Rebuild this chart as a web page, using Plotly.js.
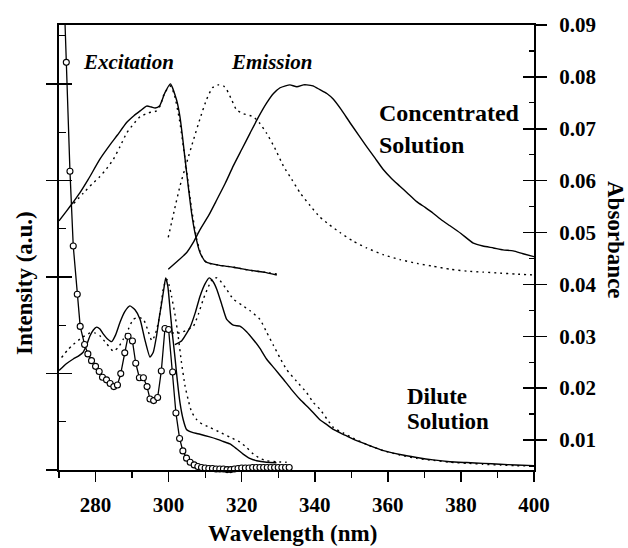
<!DOCTYPE html>
<html>
<head>
<meta charset="utf-8">
<script src="https://cdn.plot.ly/plotly-3.0.1.min.js"></script>
<style>html,body{margin:0;padding:0;background:#fff;}#chart{width:628px;height:548px;}</style>
</head>
<body>
<div id="chart"></div>
<script>
// Concentrated solution - excitation (solid / dotted)
const ccExS_x = [270, 272, 274, 275.7, 278, 281.2, 284, 286, 288.5, 290.5, 292.2, 294.0, 295.3, 296.3, 297.5, 299.0, 300.5, 302.2, 303.1, 303.9, 304.5, 305.4, 306.3, 307.2, 308.6, 310.0, 311.3, 314, 317.7, 322, 326, 329.6];
const ccExS_y = [2.58, 2.68, 2.78, 2.87, 3.01, 3.22, 3.37, 3.47, 3.60, 3.67, 3.72, 3.77, 3.76, 3.75, 3.77, 3.91, 4.00, 3.83, 3.66, 3.42, 3.22, 2.93, 2.66, 2.46, 2.25, 2.16, 2.14, 2.12, 2.10, 2.07, 2.05, 2.02];
const ccExD_x = [274, 276.7, 279, 281.2, 283, 284.9, 286.7, 288.5, 290.3, 292.2, 294.5, 296.7, 297.8, 298.5, 299.5, 300.4, 301.5, 303, 304.9, 306.3, 307.7, 309, 310.4, 314, 318, 322, 326, 329.6];
const ccExD_y = [2.76, 2.87, 2.96, 3.04, 3.12, 3.22, 3.35, 3.49, 3.58, 3.66, 3.70, 3.72, 3.78, 3.87, 3.94, 3.98, 3.90, 3.62, 3.11, 2.70, 2.39, 2.22, 2.15, 2.12, 2.10, 2.07, 2.05, 2.03];
// Concentrated solution - emission (solid / dotted)
const ccEmS_x = [299.9, 302, 304.9, 306.8, 308.6, 311, 313.2, 315.5, 317.7, 320, 322.3, 324.5, 326.8, 328.7, 330.5, 332, 333.2, 335.1, 336.9, 337.8, 339.5, 341.4, 343.3, 345.1, 347.3, 349.6, 352, 354.2, 356.5, 358.8, 361, 363.3, 365.6, 367.9, 370.2, 372.4, 374.7, 377.0, 380, 383.4, 386, 388.9, 391.5, 394.3, 397, 400];
const ccEmS_y = [2.08, 2.15, 2.25, 2.36, 2.49, 2.64, 2.80, 2.97, 3.15, 3.32, 3.49, 3.65, 3.80, 3.90, 3.96, 3.98, 3.99, 3.97, 3.99, 3.99, 3.98, 3.94, 3.90, 3.84, 3.73, 3.60, 3.47, 3.35, 3.23, 3.11, 3.02, 2.94, 2.86, 2.78, 2.72, 2.66, 2.59, 2.53, 2.45, 2.35, 2.32, 2.30, 2.28, 2.27, 2.24, 2.21];
const ccEmD_x = [299.9, 301.5, 303.1, 305, 306.8, 308.6, 310.4, 312, 313.6, 315, 315.9, 317.2, 318.6, 320.5, 323.2, 325, 326.8, 329, 331.4, 333.7, 336.0, 338.7, 341.4, 344, 346.9, 350.5, 354.2, 358.8, 363.3, 368, 372.4, 377, 381.6, 386, 390.7, 395, 400];
const ccEmD_y = [2.41, 2.68, 2.94, 3.19, 3.42, 3.64, 3.84, 3.96, 3.99, 3.98, 3.94, 3.84, 3.73, 3.69, 3.66, 3.59, 3.49, 3.34, 3.15, 3.01, 2.87, 2.74, 2.62, 2.54, 2.46, 2.37, 2.30, 2.23, 2.18, 2.14, 2.11, 2.08, 2.06, 2.05, 2.04, 2.03, 2.02];
// Dilute solution - excitation (solid / dotted)
const dExS_x = [270, 272, 273.9, 275.3, 276.6, 277.6, 278.5, 279.4, 280.3, 281.2, 282.1, 283.2, 284.4, 285.5, 286.7, 288, 289.4, 290.8, 292.2, 293.5, 294.9, 295.8, 296.7, 297.4, 298.1, 298.7, 299.2, 299.8, 300.4, 301.0, 301.7, 302.4, 303.1, 304, 304.9, 306.5, 308.6, 311, 313.2, 315, 316.8, 318.6, 320.4, 322.2, 324.1, 326.8, 329.5];
const dExS_y = [1.03, 1.10, 1.15, 1.18, 1.22, 1.30, 1.39, 1.45, 1.48, 1.46, 1.41, 1.36, 1.33, 1.40, 1.53, 1.64, 1.70, 1.66, 1.56, 1.35, 1.17, 1.22, 1.39, 1.57, 1.73, 1.88, 1.99, 1.90, 1.66, 1.42, 1.18, 0.92, 0.70, 0.52, 0.42, 0.39, 0.37, 0.345, 0.32, 0.295, 0.27, 0.22, 0.165, 0.12, 0.096, 0.08, 0.075];
const dExD_x = [270.7, 272.3, 273.9, 276.2, 278.5, 279.8, 281.2, 283, 284.9, 286.2, 287.6, 289, 290.3, 291.7, 293.1, 294.3, 295.4, 296.3, 297.2, 297.9, 298.5, 299.0, 299.5, 300.1, 300.8, 301.7, 302.6, 303.5, 304.5, 305.4, 306.3, 307.5, 308.6, 311.3, 314.1, 316.8, 319.5, 321.4, 323.2, 325, 326.8, 329.5, 332.3];
const dExD_y = [1.165, 1.24, 1.30, 1.37, 1.42, 1.42, 1.39, 1.31, 1.23, 1.27, 1.355, 1.46, 1.56, 1.58, 1.56, 1.45, 1.34, 1.40, 1.53, 1.70, 1.87, 1.94, 1.975, 1.92, 1.80, 1.62, 1.39, 1.12, 0.87, 0.72, 0.60, 0.53, 0.49, 0.44, 0.39, 0.34, 0.29, 0.23, 0.165, 0.12, 0.096, 0.085, 0.08];
// Dilute solution - emission (solid / dotted)
const dEmS_x = [301.7, 303.6, 305.9, 307.3, 308.6, 310, 311.1, 312.2, 313.2, 314.5, 315.9, 317.7, 319.5, 321.4, 323.2, 325, 326.8, 329, 331.4, 333.7, 336, 338.7, 341.4, 343.3, 345.1, 347.8, 350.5, 354.5, 358.8, 363.3, 367.9, 372.4, 377, 381.6, 386.1, 390.7, 395, 400];
const dEmS_y = [1.30, 1.34, 1.48, 1.63, 1.80, 1.93, 1.99, 1.95, 1.87, 1.72, 1.56, 1.50, 1.49, 1.43, 1.35, 1.26, 1.15, 1.05, 0.94, 0.83, 0.73, 0.63, 0.52, 0.47, 0.42, 0.37, 0.32, 0.26, 0.20, 0.16, 0.13, 0.105, 0.086, 0.077, 0.069, 0.06, 0.052, 0.045];
const dEmD_x = [300.8, 303.1, 305, 306.8, 308.2, 309.5, 310.9, 312.2, 313.2, 314.1, 315.9, 317.7, 320, 322.3, 325, 326.8, 328.7, 330.5, 332.3, 335, 337.8, 339.6, 341.4, 343.3, 345.1, 348, 350.5, 354.5, 358.8, 363.3, 368, 372.4, 377, 381.6, 386, 391, 395, 400];
const dEmD_y = [1.42, 1.42, 1.45, 1.49, 1.62, 1.77, 1.90, 1.99, 1.99, 1.96, 1.87, 1.77, 1.71, 1.65, 1.56, 1.43, 1.29, 1.16, 1.04, 0.92, 0.80, 0.70, 0.63, 0.53, 0.44, 0.38, 0.33, 0.26, 0.20, 0.155, 0.12, 0.10, 0.08, 0.07, 0.06, 0.05, 0.045, 0.04];
// Absorbance (open circles, right axis)
const absX = [271, 272.0, 273.0, 273.9, 275.0, 275.8, 277.0, 277.9, 278.9, 280.0, 281.0, 281.9, 283.0, 284.0, 285.0, 286.0, 286.9, 288.0, 288.9, 290.1, 291.0, 292.0, 293.1, 294.1, 294.9, 295.9, 297.0, 298.0, 299.0, 300.0, 301.1, 302.0, 303.0, 303.9, 304.9, 305.9, 307, 308, 309, 310, 311, 312, 313, 314, 315, 316, 317, 318, 319, 320, 321, 322, 323, 324, 325, 326, 327, 328, 329, 330, 331, 332, 333];
const absY = [0.104, 0.0828, 0.0618, 0.0474, 0.0381, 0.0319, 0.0284, 0.0266, 0.0253, 0.0242, 0.0232, 0.0221, 0.0216, 0.0209, 0.0203, 0.0206, 0.0228, 0.0268, 0.0300, 0.0291, 0.0248, 0.0220, 0.0220, 0.0203, 0.0179, 0.0176, 0.0182, 0.0233, 0.0315, 0.0313, 0.0231, 0.0152, 0.0103, 0.0079, 0.0065, 0.0057, 0.0052, 0.0049, 0.0047, 0.0046, 0.0045, 0.0045, 0.0044, 0.0044, 0.0044, 0.0043, 0.0043, 0.0044, 0.0045, 0.0046, 0.0046, 0.0046, 0.0047, 0.0047, 0.0047, 0.0047, 0.0047, 0.0047, 0.0047, 0.0047, 0.0047, 0.0047, 0.0047];
// Axis ticks
const absTicks = [0.01, 0.02, 0.03, 0.04, 0.05, 0.06, 0.07, 0.08, 0.09];
const absTickText = ['0.01', '0.02', '0.03', '0.04', '0.05', '0.06', '0.07', '0.08', '0.09'];
const wlTicks = [280, 300, 320, 340, 360, 380, 400];

const FONT = 'Liberation Serif, Times New Roman, serif';
const solid = {color: '#000', width: 1.4, shape: 'spline', smoothing: 0.5};
const dotted = {color: '#000', width: 1.4, dash: '2px,4px', shape: 'spline', smoothing: 0.5};
function tr(x, y, line) { return {x: x, y: y, type: 'scatter', mode: 'lines', line: line, hoverinfo: 'skip', showlegend: false}; }

const data = [
  tr(ccExS_x, ccExS_y, solid), tr(ccExD_x, ccExD_y, dotted),
  tr(ccEmS_x, ccEmS_y, solid), tr(ccEmD_x, ccEmD_y, dotted),
  tr(dExS_x, dExS_y, solid), tr(dExD_x, dExD_y, dotted),
  tr(dEmS_x, dEmS_y, solid), tr(dEmD_x, dEmD_y, dotted),
  {x: absX, y: absY, type: 'scatter', mode: 'lines+markers', yaxis: 'y2', cliponaxis: false,
   line: {color: '#000', width: 1.3},
   marker: {symbol: 'circle', size: 6, color: '#fff', line: {color: '#000', width: 1.1}},
   hoverinfo: 'skip', showlegend: false},
  {x: [], y: [], yaxis: 'y3', type: 'scatter', showlegend: false},
  {x: [], y: [], yaxis: 'y4', type: 'scatter', showlegend: false}
];

const layout = {
  width: 628, height: 548,
  margin: {l: 59, r: 94, t: 25, b: 78},
  paper_bgcolor: '#fff', plot_bgcolor: '#fff',
  font: {family: FONT, color: '#000'},
  showlegend: false,
  xaxis: {
    range: [270, 400], tickmode: 'array', tickvals: wlTicks,
    ticks: 'outside', ticklen: 10, tickwidth: 1.5, tickcolor: '#000',
    minor: {tickmode: 'linear', tick0: 270, dtick: 10, ticks: 'outside', ticklen: 6, tickwidth: 1.3, tickcolor: '#000', showgrid: false},
    tickfont: {family: FONT, size: 21, weight: 'bold', color: '#000'},
    ticklabelstandoff: 5,
    showline: true, linewidth: 2, linecolor: '#000', mirror: true,
    showgrid: false, zeroline: false
  },
  yaxis: {
    range: [0, 4.61], tickmode: 'linear', tick0: 0, dtick: 1,
    ticks: 'outside', ticklen: 11, tickwidth: 1.5, tickcolor: '#000',
    showticklabels: false, showline: true, linewidth: 2, linecolor: '#000',
    showgrid: false, zeroline: false
  },
  yaxis3: {
    overlaying: 'y', side: 'left', range: [0, 4.61], tickmode: 'linear', tick0: 0, dtick: 1,
    ticks: 'inside', ticklen: 13, tickwidth: 1.5, tickcolor: '#000',
    minor: {tickmode: 'linear', tick0: 0.5, dtick: 1, ticks: 'inside', ticklen: 7, tickwidth: 1.3, tickcolor: '#000', showgrid: false},
    showticklabels: false, showline: false, showgrid: false, zeroline: false
  },
  yaxis2: {
    overlaying: 'y', side: 'right', range: [0.00422, 0.09],
    tickmode: 'array', tickvals: absTicks, ticktext: absTickText,
    ticks: 'outside', ticklen: 11, tickwidth: 1.5, tickcolor: '#000',
    tickfont: {family: FONT, size: 21, weight: 'bold', color: '#000'},
    ticklabelstandoff: 8,
    showline: true, linewidth: 2, linecolor: '#000',
    showgrid: false, zeroline: false
  },
  yaxis4: {
    overlaying: 'y', side: 'right', range: [0.00422, 0.09],
    tickmode: 'array', tickvals: absTicks,
    ticks: 'inside', ticklen: 11, tickwidth: 1.5, tickcolor: '#000',
    minor: {tickmode: 'linear', tick0: 0.005, dtick: 0.01, ticks: 'inside', ticklen: 5, tickwidth: 1.3, tickcolor: '#000', showgrid: false},
    showticklabels: false, showline: false, showgrid: false, zeroline: false
  },
  annotations: [
    {text: 'Wavelength (nm)', xref: 'paper', yref: 'paper', x: 0.4916, y: -0.1438, xanchor: 'center', yanchor: 'middle', showarrow: false,
     font: {family: FONT, size: 23, weight: 'bold', color: '#000'}},
    {text: 'Intensity (a.u.)', xref: 'paper', yref: 'paper', x: -0.0737, y: 0.4202, xanchor: 'center', yanchor: 'middle', textangle: -90, showarrow: false,
     font: {family: FONT, size: 23, weight: 'bold', color: '#000'}},
    {text: 'Absorbance', xref: 'paper', yref: 'paper', x: 1.1705, y: 0.5169, xanchor: 'center', yanchor: 'middle', textangle: 90, showarrow: false,
     font: {family: FONT, size: 23, weight: 'bold', color: '#000'}},
    {text: 'Excitation', xref: 'paper', yref: 'paper', x: 0.1453, y: 0.9175, xanchor: 'center', yanchor: 'middle', showarrow: false,
     font: {family: FONT, size: 21, weight: 'bold', style: 'italic', color: '#000'}},
    {text: 'Emission', xref: 'paper', yref: 'paper', x: 0.4478, y: 0.9175, xanchor: 'center', yanchor: 'middle', showarrow: false,
     font: {family: FONT, size: 21, weight: 'bold', style: 'italic', color: '#000'}},
    {text: 'Concentrated', xref: 'paper', yref: 'paper', x: 0.6688, y: 0.8016, xanchor: 'left', yanchor: 'middle', showarrow: false,
     font: {family: FONT, size: 24, weight: 'bold', color: '#000'}},
    {text: 'Solution', xref: 'paper', yref: 'paper', x: 0.6688, y: 0.7303, xanchor: 'left', yanchor: 'middle', showarrow: false,
     font: {family: FONT, size: 24, weight: 'bold', color: '#000'}},
    {text: 'Dilute', xref: 'paper', yref: 'paper', x: 0.7284, y: 0.1647, xanchor: 'left', yanchor: 'middle', showarrow: false,
     font: {family: FONT, size: 23, weight: 'bold', color: '#000'}},
    {text: 'Solution', xref: 'paper', yref: 'paper', x: 0.7284, y: 0.1085, xanchor: 'left', yanchor: 'middle', showarrow: false,
     font: {family: FONT, size: 23, weight: 'bold', color: '#000'}}
  ]
};

Plotly.newPlot('chart', data, layout, {staticPlot: true, displayModeBar: false});
</script>
</body>
</html>
